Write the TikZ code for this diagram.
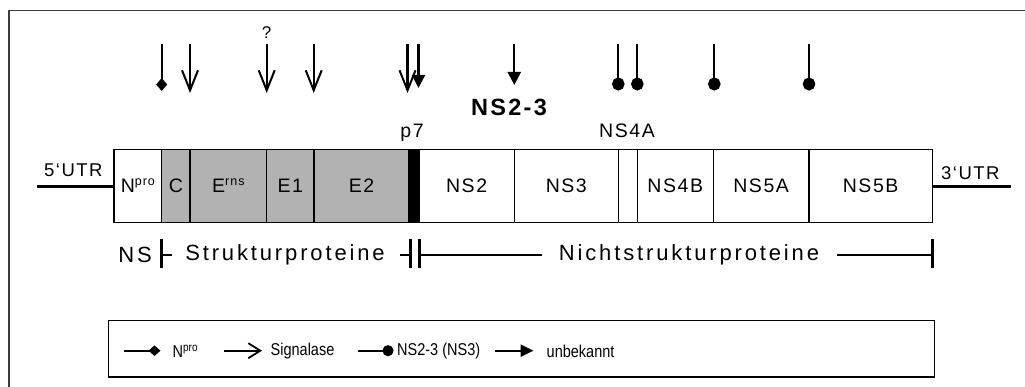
\documentclass[tikz,border=0pt]{standalone}
\usepackage{fontspec}
\setmainfont{Liberation Sans}
\newfontfamily\spaced[LetterSpace=8]{Liberation Sans}
\newfontfamily\wide[LetterSpace=13]{Liberation Sans}
\newfontfamily\boldsp[LetterSpace=10]{Liberation Sans}
\usetikzlibrary{arrows.meta}
\definecolor{segfill}{RGB}{178,178,178}
\definecolor{framecol}{RGB}{60,60,60}
\newcommand\supx[1]{\raisebox{7pt}{\fontsize{12.5}{12.5}\selectfont #1}}
\newcommand\tall[1]{\scalebox{1}[1.18]{#1}}
\tikzset{
  seg/.style={draw, line width=1.5pt, inner sep=0pt, outer sep=0pt, minimum height=73pt,
    font=\spaced\fontsize{19.5}{20}\selectfont},
  grayseg/.style={seg, fill=segfill},
  lab/.style={inner sep=0pt, font=\spaced\fontsize{19.5}{20}\selectfont},
  biglab/.style={inner sep=0pt, font=\wide\fontsize{22}{23}\selectfont},
  leglab/.style={inner sep=0pt, anchor=west, font=\fontsize{14.5}{15}\selectfont},
  cut/.style={line width=2.3pt},
  utr/.style={line width=2.6pt},
  rulebar/.style={line width=3pt},
  ruleline/.style={line width=1.6pt},
  dia/.style={cut, -{Diamond[length=13pt,width=11pt]}},
  sig/.style={cut, -{Straight Barb[length=20pt,width=16pt,line width=2pt]}},
  dot/.style={cut, -{Circle[length=13pt,width=12.5pt]}},
  unk/.style={cut, -{Triangle[length=13pt,width=13pt]}},
}
\begin{document}
\begin{tikzpicture}[x=1pt,y=-1pt]
\useasboundingbox (0,0) rectangle (1025,387);
% outer frame (only top and left visible)
\draw[framecol, line width=1.3pt] (9,400) -- (9,10.7) -- (1040,10.7);

% genome segments
\node[seg, minimum width=47.7pt] (npro) at (137.85,185.8) {N\supx{pro}};
\node[grayseg, minimum width=28.3pt] (c) at (175.85,185.8) {C};
\node[grayseg, minimum width=76.7pt] (erns) at (228.35,185.8) {E\supx{rns}};
\node[grayseg, minimum width=47.3pt] (e1) at (290.35,185.8) {E1};
\node[grayseg, minimum width=95pt] (e2) at (361.5,185.8) {E2};
\node[seg, fill=black, minimum width=10pt] (p7) at (414,185.8) {};
\node[seg, minimum width=95.3pt] (ns2) at (466.65,185.8) {NS2};
\node[seg, minimum width=104pt] (ns3) at (566.3,185.8) {NS3};
\node[seg, minimum width=19pt] (ns4a) at (627.8,185.8) {};
\node[seg, minimum width=76pt] (ns4b) at (675.3,185.8) {NS4B};
\node[seg, minimum width=95.7pt] (ns5a) at (761.15,185.8) {NS5A};
\node[seg, minimum width=123.3pt] (ns5b) at (870.65,185.8) {NS5B};

% UTRs
\coordinate (utr5) at (37,186.7);
\coordinate (utr3) at (1011,186.7);
\draw[utr] (utr5) -- (npro.west |- utr5);
\draw[utr] (ns5b.east |- utr3) -- (utr3);
\node[lab, anchor=base west, font=\spaced\fontsize{18.5}{19}\selectfont] (l5) at (44,177) {5‘UTR};
\node[lab, anchor=base west, font=\spaced\fontsize{18.5}{19}\selectfont] (l3) at (941,180) {3‘UTR};

% labels above
\node[lab, anchor=base] (lp7) at (412,137.5) {p7};
\node[lab, anchor=base] (lns4a) at (627,137.5) {NS4A};
\node[inner sep=0pt, font=\boldsp\bfseries\fontsize{23.5}{24}\selectfont, anchor=base] (lns23) at (509,116) {NS2-3};
\node[inner sep=0pt, font=\fontsize{17}{17}\selectfont, anchor=base] (q) at (266.7,38.5) {?};

% cleavage arrows
\foreach \n/\x in {a1/161.7,a2/190,a3/266.7,a4/313.7,a5/407.5,a6/418.5,a7/514.3,a8/618.3,a9/637.3,a10/714.3,a11/809}{
  \coordinate (\n s) at (\x,44);
}
\coordinate (a1e) at (161.7,91);
\coordinate (a2e) at (190,93);
\coordinate (a3e) at (266.7,93);
\coordinate (a4e) at (313.7,93);
\coordinate (a5e) at (407.5,93);
\coordinate (a6e) at (418.5,88);
\coordinate (a7e) at (514.3,85);
\coordinate (a8e) at (618.3,90.5);
\coordinate (a9e) at (637.3,90.5);
\coordinate (a10e) at (714.3,90.5);
\coordinate (a11e) at (809,90.5);
\draw[dia] (a1s) -- (a1e);
\draw[sig] (a2s) -- (a2e);
\draw[sig] (a3s) -- (a3e);
\draw[sig] (a4s) -- (a4e);
\draw[sig] (a5s) -- (a5e);
\draw[unk] (a6s) -- (a6e);
\draw[unk] (a7s) -- (a7e);
\draw[dot] (a8s) -- (a8e);
\draw[dot] (a9s) -- (a9e);
\draw[dot] (a10s) -- (a10e);
\draw[dot] (a11s) -- (a11e);

% protein classes row
\node[biglab] (lns) at (135,255) {NS};
\node[biglab] (lstruk) at (285,255) {Strukturproteine};
\node[biglab] (lnicht) at (689,255) {Nichtstrukturproteine};
\coordinate (b1t) at (161.5,239); \coordinate (b1b) at (161.5,268);
\coordinate (b1r) at (172,255);
\coordinate (b2t) at (410,239); \coordinate (b2b) at (410,268);
\coordinate (b2l) at (400,255);
\coordinate (b3t) at (419,239); \coordinate (b3b) at (419,268);
\coordinate (b3r) at (541.7,255);
\coordinate (b4t) at (932.3,239); \coordinate (b4b) at (932.3,268);
\coordinate (b4l) at (837,255);
\draw[rulebar] (b1t) -- (b1b);
\draw[ruleline] (b1t |- b1r) -- (b1r);
\draw[rulebar] (b2t) -- (b2b);
\draw[ruleline] (b2l) -- (b2t |- b2l);
\draw[rulebar] (b3t) -- (b3b);
\draw[ruleline] (b3t |- b3r) -- (b3r);
\draw[rulebar] (b4t) -- (b4b);
\draw[ruleline] (b4l) -- (b4t |- b4l);

% legend
\node[draw, line width=1.5pt, inner sep=0pt, minimum width=826pt, minimum height=56.5pt] (legend) at (521.3,348.8) {};
\coordinate (g1s) at (124,350.7); \coordinate (g1e) at (160.5,350.7);
\coordinate (g2s) at (224,350.7); \coordinate (g2e) at (262,350.7);
\coordinate (g3s) at (358,350.7); \coordinate (g3e) at (393.5,350.7);
\coordinate (g4s) at (495,350.7); \coordinate (g4e) at (533.5,350.7);
\draw[cut, -{Diamond[length=12pt,width=10.5pt]}] (g1s) -- (g1e);
\draw[cut, -{Straight Barb[length=12pt,width=15pt,line width=1.8pt]}] (g2s) -- (g2e);
\draw[cut, -{Circle[length=11pt,width=11pt]}] (g3s) -- (g3e);
\draw[cut, -{Triangle[length=13pt,width=12pt]}] (g4s) -- (g4e);
\node[leglab] (t1) at (172.5,351.5) {\tall{N\raisebox{5.5pt}{\fontsize{10}{10}\selectfont pro}}};
\node[leglab] (t2) at (270.5,351.5) {\tall{Signalase}};
\node[leglab] (t3) at (397,351.5) {\tall{NS2-3 (NS3)}};
\node[leglab] (t4) at (546.5,351.5) {\tall{unbekannt}};
\end{tikzpicture}
\end{document}
